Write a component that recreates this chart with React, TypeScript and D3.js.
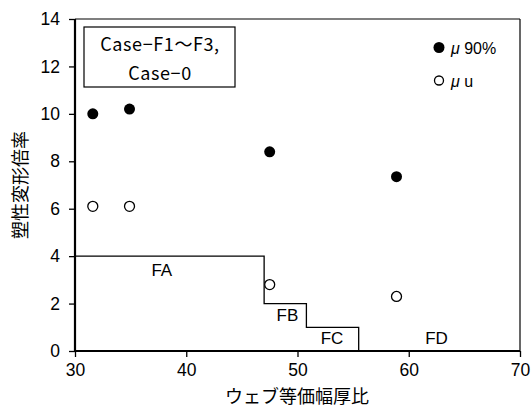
import React, { useEffect, useRef } from "react";
import * as d3 from "d3";

const width = 532;
const height = 407;
const margin = { top: 19, right: 12, bottom: 56, left: 75 };

const xTicks = [30, 40, 50, 60, 70];
const yTicks = [0, 2, 4, 6, 8, 10, 12, 14];

const ratioX = [31.6, 34.9, 47.5, 58.9];
const mu90 = [10.0, 10.2, 8.4, 7.35];
const muU = [6.1, 6.1, 2.8, 2.3];

// rank boundaries (step line)
const stepX = [30, 47, 47, 50.8, 50.8, 55.5, 55.5];
const stepY = [4, 4, 2, 2, 1, 1, 0];

const rankNames = ["FA", "FB", "FC", "FD"];
const rankX = [37.8, 49.1, 53.1, 62.5];
const rankY = [3.35, 1.45, 0.5, 0.5];

export default function App() {
  const ref = useRef<SVGSVGElement>(null);

  useEffect(() => {
    document.body.style.margin = "0";
    const svg = d3.select(ref.current);
    svg.selectAll("*").remove();

    const x = d3.scaleLinear().domain([30, 70]).range([margin.left, width - margin.right]);
    const y = d3.scaleLinear().domain([0, 14]).range([height - margin.bottom, margin.top]);

    const g = svg.append("g");

    // top and right frame
    g.append("line")
      .attr("x1", x(30)).attr("x2", x(70))
      .attr("y1", y(14)).attr("y2", y(14))
      .attr("stroke", "#000").attr("stroke-width", 1.2);
    g.append("line")
      .attr("x1", x(70)).attr("x2", x(70))
      .attr("y1", y(14)).attr("y2", y(0))
      .attr("stroke", "#000").attr("stroke-width", 1.2);

    const xAxis = g.append("g")
      .attr("transform", `translate(0,${y(0)})`)
      .call(d3.axisBottom(x).tickValues(xTicks).tickSize(6).tickPadding(7));
    const yAxis = g.append("g")
      .attr("transform", `translate(${x(30)},0)`)
      .call(d3.axisLeft(y).tickValues(yTicks).tickSize(6).tickPadding(9));

    [xAxis, yAxis].forEach((a) => {
      a.select(".domain").remove();
      a.selectAll(".tick line").attr("stroke", "#000").attr("stroke-width", 1.3);
      a.selectAll(".tick text")
        .attr("font-family", "Liberation Sans, Arial, sans-serif")
        .attr("font-size", 17.5)
        .attr("fill", "#000");
    });
    g.append("line")
      .attr("x1", x(30)).attr("x2", x(70))
      .attr("y1", y(0)).attr("y2", y(0))
      .attr("stroke", "#000").attr("stroke-width", 2.2);
    g.append("line")
      .attr("x1", x(30)).attr("x2", x(30))
      .attr("y1", y(14)).attr("y2", y(0))
      .attr("stroke", "#000").attr("stroke-width", 2.2);

    // step line
    const line = d3.line<number>()
      .x((_, i) => x(stepX[i]))
      .y((d) => y(d));
    g.append("path")
      .datum(stepY)
      .attr("d", line)
      .attr("fill", "none")
      .attr("stroke", "#000")
      .attr("stroke-width", 1.3);

    g.selectAll(".rank")
      .data(rankNames)
      .join("text")
      .attr("x", (_, i) => x(rankX[i]))
      .attr("y", (_, i) => y(rankY[i]))
      .attr("text-anchor", "middle")
      .attr("dominant-baseline", "middle")
      .attr("font-family", "Liberation Sans, Arial, sans-serif")
      .attr("font-size", 17)
      .text((d) => d);

    // points
    g.selectAll(".m90")
      .data(mu90)
      .join("circle")
      .attr("cx", (_, i) => x(ratioX[i]))
      .attr("cy", (d) => y(d))
      .attr("r", 5.5)
      .attr("fill", "#000");
    g.selectAll(".mu")
      .data(muU)
      .join("circle")
      .attr("cx", (_, i) => x(ratioX[i]))
      .attr("cy", (d) => y(d))
      .attr("r", 5)
      .attr("fill", "#fff")
      .attr("stroke", "#000")
      .attr("stroke-width", 1.3);

    // case box
    g.append("rect")
      .attr("x", 84).attr("y", 27)
      .attr("width", 151).attr("height", 60)
      .attr("fill", "#fff")
      .attr("stroke", "#000")
      .attr("stroke-width", 1.2);
    const caseText = g.append("text")
      .attr("text-anchor", "middle")
      .attr("font-family", "Noto Sans CJK JP, sans-serif")
      .attr("font-size", 18)
      .attr("letter-spacing", 0.6);
    caseText.append("tspan").attr("x", 160).attr("y", 51).text("Case−F1〜F3,");
    caseText.append("tspan").attr("x", 160).attr("y", 80).text("Case−0");

    // legend
    const legend = g.append("g").attr("font-family", "Liberation Sans, Arial, sans-serif").attr("font-size", 16);
    legend.append("circle").attr("cx", 439).attr("cy", 47.5).attr("r", 5.5).attr("fill", "#000");
    legend.append("circle").attr("cx", 439).attr("cy", 80.5).attr("r", 4.5)
      .attr("fill", "#fff").attr("stroke", "#000").attr("stroke-width", 1.3);
    const t1 = legend.append("text").attr("x", 451).attr("y", 54);
    t1.append("tspan").attr("font-style", "italic").text("μ");
    t1.append("tspan").text(" 90%");
    const t2 = legend.append("text").attr("x", 451).attr("y", 87);
    t2.append("tspan").attr("font-style", "italic").text("μ");
    t2.append("tspan").text(" u");

    // axis titles
    g.append("text")
      .attr("x", 297).attr("y", 403)
      .attr("text-anchor", "middle")
      .attr("font-family", "Noto Sans CJK JP, sans-serif")
      .attr("font-size", 18)
      .text("ウェブ等価幅厚比");
    g.append("text")
      .attr("transform", `translate(27,185) rotate(-90)`)
      .attr("text-anchor", "middle")
      .attr("font-family", "Noto Sans CJK JP, sans-serif")
      .attr("font-size", 18)
      .text("塑性変形倍率");
  }, []);

  return <svg ref={ref} width={width} height={height} style={{ display: "block", background: "#fff" }} />;
}
